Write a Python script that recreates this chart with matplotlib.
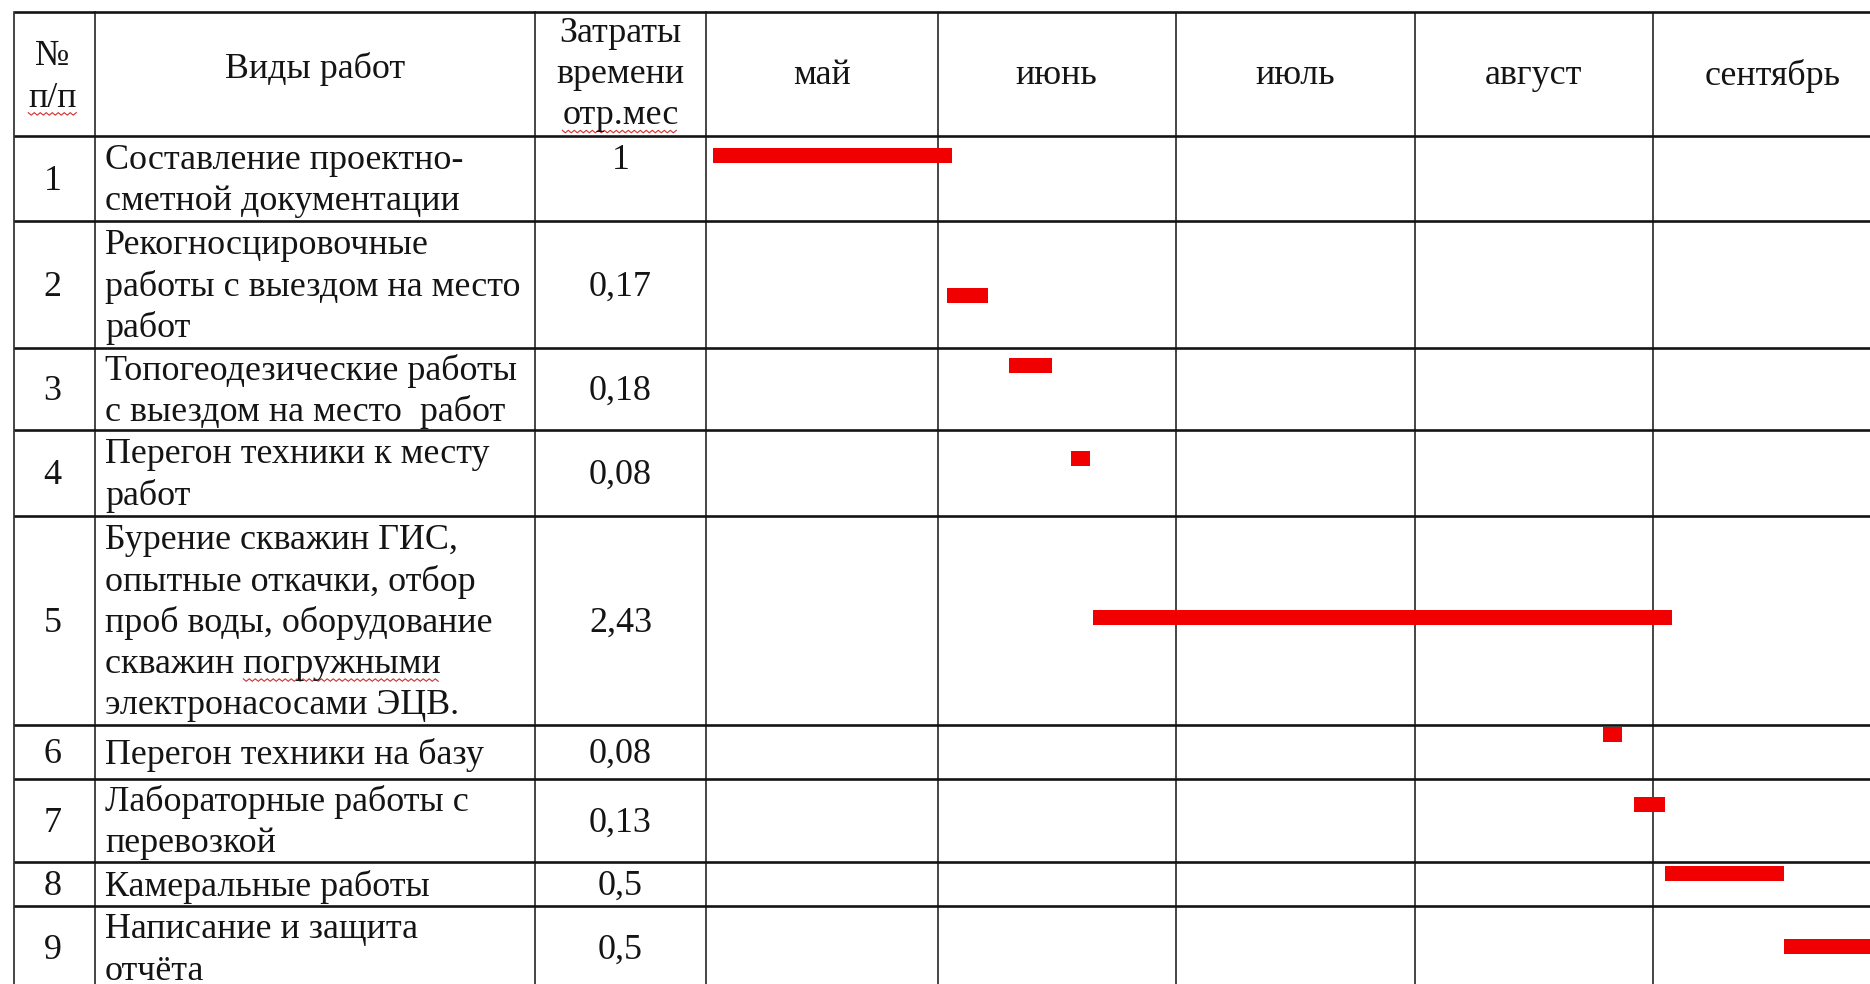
import numpy as np
import matplotlib.pyplot as plt

plt.rcParams['font.family'] = ['Liberation Serif', 'DejaVu Serif']

# Календарный график работ
row_numbers = ['1', '2', '3', '4', '5', '6', '7', '8', '9']
works = [
    ['Составление проектно-', 'сметной документации'],
    ['Рекогносцировочные', 'работы с выездом на место', 'работ'],
    ['Топогеодезические работы', 'с выездом на место  работ'],
    ['Перегон техники к месту', 'работ'],
    ['Бурение скважин ГИС,', 'опытные откачки, отбор', 'проб воды, оборудование',
     'скважин погружными', 'электронасосами ЭЦВ.'],
    ['Перегон техники на базу'],
    ['Лабораторные работы с', 'перевозкой'],
    ['Камеральные работы'],
    ['Написание и защита', 'отчёта'],
]
durations = [1, 0.17, 0.18, 0.08, 2.43, 0.08, 0.13, 0.5, 0.5]   # отр.мес
start_months = [0.06, 1.04, 1.30, 1.56, 1.65, 3.79, 3.92, 4.05, 4.55]  # от начала мая
months = ['май', 'июнь', 'июль', 'август', 'сентябрь']

# --- layout (pixels) ---
W, H = 1870, 984
col_edges = [14, 95, 535, 706]
row_edges = [12, 136, 221, 348, 430, 516, 725, 779, 862, 906, 990]
bar_offset = [19.5, 74, 17, 28, 101, 9, 25, 11.5, 40.5]
month_x0 = 699      # начало мая
month_w = 238.5     # ширина месяца
pitch = 41.3        # межстрочный шаг
dy = 2.5            # сдвиг текста вниз
fs = 25.9
ink = '#141414'
red = '#f00000'

fig = plt.figure(figsize=(W / 100, H / 100), dpi=100)
ax = fig.add_axes([0, 0, 1, 1])
ax.set_xlim(0, W)
ax.set_ylim(H, 0)
ax.axis('off')

gx = fig.add_axes([month_x0 / W, 0, 1 - month_x0 / W, 1])
gx.set_xlim(0, (W - month_x0) / month_w)
gx.set_ylim(H, 0)
gx.axis('off')
gx.patch.set_alpha(0)

# table grid
for y in row_edges[:-1]:
    ax.plot([col_edges[0], W], [y, y], color=ink, lw=1.9, solid_capstyle='butt')
for x in col_edges:
    ax.plot([x, x], [row_edges[0], row_edges[-1]], color=ink, lw=1.1)
may_left = (col_edges[-1] - month_x0) / month_w
month_edges = [may_left, 1, 2, 3, 4, 5]
gx.vlines(month_edges[1:], row_edges[0], row_edges[-1], color=ink, lw=1.1)


def lines_at(x, yc, lines, ha='center', **kw):
    n = len(lines)
    out = []
    for k, s in enumerate(lines):
        y = yc + dy + (k - (n - 1) / 2) * pitch
        out.append(ax.text(x, y, s, ha=ha, va='center', fontsize=fs, color=ink, **kw))
    return out


# header
hc = (row_edges[0] + row_edges[1]) / 2
num_head = lines_at((col_edges[0] + col_edges[1]) / 2 - 2, hc + 1, ['№', 'п/п'])
lines_at((col_edges[1] + col_edges[2]) / 2, hc - 7, ['Виды работ'])
time_head = lines_at((col_edges[2] + col_edges[3]) / 2, hc - 2, ['Затраты', 'времени', 'отр.мес'])
for i, m in enumerate(months):
    gx.text((month_edges[i] + month_edges[i + 1]) / 2, hc + 2, m, ha='center', va='center',
            fontsize=fs, color=ink)

# rows
desc_texts = []
for i in range(len(works)):
    top, bot = row_edges[i + 1], row_edges[i + 2]
    yc = (top + bot) / 2
    lines_at((col_edges[0] + col_edges[1]) / 2 - 2, yc, [row_numbers[i]])
    desc_texts.append(lines_at(col_edges[1] + 10, yc, works[i], ha='left'))
    label = f'{durations[i]:g}'.replace('.', ',')
    y_lab = yc - (len(works[i]) - 1) / 2 * pitch if i == 0 else yc
    lines_at((col_edges[2] + col_edges[3]) / 2, y_lab, [label])

# bars
bar_y = [row_edges[i + 1] + bar_offset[i] for i in range(len(durations))]
gx.barh(bar_y, durations, left=start_months, height=15, color=red, zorder=3)

# spell-check squiggles
fig.canvas.draw()
r = fig.canvas.get_renderer()
inv = ax.transData.inverted()


def squiggle(x0, x1, ybase):
    xs = np.arange(x0, x1, 3.0)
    ys = ybase + np.where(np.arange(len(xs)) % 2 == 0, 0, 2.5)
    ax.plot(xs, ys, color='#d03030', lw=0.8)


def under(t, part=None):
    bb = t.get_window_extent(r)
    (x0, y0), (x1, y1) = inv.transform([[bb.x0, bb.y0], [bb.x1, bb.y1]])
    if part is not None:
        tmp = ax.text(0, 0, part, fontsize=fs)
        pw = tmp.get_window_extent(r).width
        tmp.remove()
        x0 = x1 - pw
    squiggle(x0, x1, y0 - 2)


under(num_head[1])
under(time_head[2])
under(desc_texts[4][3], 'погружными')

fig.savefig('out.png', dpi=100)
